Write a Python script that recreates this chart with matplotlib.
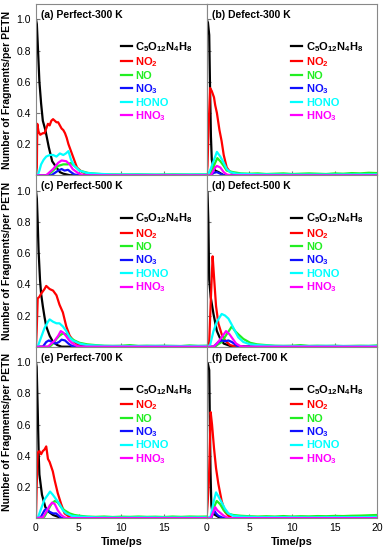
import matplotlib
matplotlib.use("Agg")
import matplotlib.pyplot as plt

plt.rcParams['font.family'] = ['Liberation Sans', 'DejaVu Sans']
plt.rcParams['mathtext.fontset'] = 'custom'
plt.rcParams['mathtext.rm'] = 'Liberation Sans:bold'
plt.rcParams['mathtext.default'] = 'rm'

# species names and colours (legend order)
species = ['C$_5$O$_{12}$N$_4$H$_8$', 'NO$_2$', 'NO', 'NO$_3$', 'HONO', 'HNO$_3$']
colors = ['black', '#ff0000', '#22ee22', '#1010ff', '#00ffff', '#ff00ff']
titles = ['(a) Perfect-300 K', '(b) Defect-300 K',
          '(c) Perfect-500 K', '(d) Defect-500 K',
          '(e) Perfect-700 K', '(f) Defect-700 K']

# ---------- (a) Perfect-300 K ----------
a_t_c5 = [0, 0.1, 0.2, 0.4, 0.6, 0.8, 1.1, 1.5, 1.9, 2.4, 2.8, 3.2, 4.0, 20]
a_c5 = [1.0, 0.97, 0.85, 0.6, 0.46, 0.35, 0.29, 0.18, 0.09, 0.05, 0.02, 0.01, 0, 0]
a_t_no2 = [0, 0.1, 0.15, 0.3, 0.5, 0.8, 1.0, 1.2, 1.4, 1.6, 1.8, 2.0, 2.2, 2.4, 2.6, 2.8,
           3.0, 3.2, 3.4, 3.6, 3.8, 4.0, 4.2, 4.4, 4.6, 4.8, 5.0, 5.4, 6.0, 7.0, 20]
a_no2 = [0, 0.05, 0.33, 0.28, 0.26, 0.27, 0.27, 0.30, 0.33, 0.32, 0.35, 0.36, 0.35, 0.34, 0.34, 0.32,
         0.30, 0.29, 0.27, 0.24, 0.20, 0.17, 0.14, 0.11, 0.08, 0.05, 0.04, 0.02, 0.01, 0, 0]
a_t_no = [0, 1.2, 1.6, 2.2, 2.6, 3.2, 3.75, 4.1, 4.5, 5.1, 6.1, 7, 8, 10, 12, 14, 16, 18, 20]
a_no = [0, 0, 0.01, 0.04, 0.06, 0.07, 0.07, 0.08, 0.06, 0.03, 0.015, 0.01, 0.006, 0.005, 0.006,
        0.004, 0.006, 0.005, 0.006]
a_t_no3 = [0, 1.8, 2.6, 3.0, 3.35, 3.75, 4.1, 4.5, 5.0, 20]
a_no3 = [0, 0, 0.03, 0.04, 0.03, 0.035, 0.02, 0.005, 0, 0]
a_t_hono = [0, 0.2, 0.4, 0.6, 0.9, 1.2, 1.6, 2.0, 2.4, 2.8, 3.2, 3.5, 3.8, 4.1, 4.5, 5.1, 5.9,
            7.1, 9, 12, 15, 20]
a_hono = [0, 0, 0.03, 0.07, 0.1, 0.12, 0.13, 0.13, 0.12, 0.14, 0.13, 0.14, 0.155, 0.1, 0.06,
          0.03, 0.015, 0.01, 0.005, 0.005, 0.004, 0.005]
a_t_hno3 = [0, 1.2, 2.0, 2.6, 3.0, 3.55, 3.95, 4.3, 4.9, 5.5, 20]
a_hno3 = [0, 0, 0.04, 0.08, 0.095, 0.09, 0.07, 0.04, 0.015, 0, 0]

# ---------- (b) Defect-300 K ----------
b_t_c5 = [0, 0.15, 0.3, 0.4, 0.5, 0.6, 0.8, 1.0, 1.4, 2.0, 20]
b_c5 = [1.0, 0.98, 0.9, 0.55, 0.25, 0.1, 0.05, 0.03, 0.02, 0, 0]
b_t_no2 = [0, 0.1, 0.2, 0.4, 0.6, 0.86, 1.0, 1.2, 1.5, 1.75, 2.0, 2.35, 2.75, 3.3, 4.0, 20]
b_no2 = [0, 0.06, 0.26, 0.56, 0.54, 0.5, 0.45, 0.4, 0.29, 0.22, 0.13, 0.05, 0.02, 0.01, 0, 0]
b_t_no = [0, 0.4, 0.6, 1.0, 1.25, 1.6, 2.0, 2.35, 3.1, 4, 5, 6, 7, 8, 9, 10, 11, 12, 13, 14,
          15, 16, 17, 18, 19, 20]
b_no = [0, 0, 0.03, 0.08, 0.11, 0.09, 0.06, 0.03, 0.02, 0.012, 0.01, 0.012, 0.008, 0.01, 0.012,
        0.008, 0.01, 0.012, 0.01, 0.008, 0.012, 0.01, 0.014, 0.012, 0.016, 0.014]
b_t_no3 = [0, 0.5, 0.8, 1.2, 1.6, 2.0, 20]
b_no3 = [0, 0, 0.015, 0.02, 0.01, 0, 0]
b_t_hono = [0, 0.2, 0.47, 0.8, 1.2, 1.6, 2.0, 2.35, 2.75, 3.5, 6, 10, 15, 20]
b_hono = [0, 0.01, 0.04, 0.09, 0.15, 0.12, 0.08, 0.04, 0.02, 0.01, 0.006, 0.005, 0.005, 0.006]
b_t_hno3 = [0, 0.5, 1.0, 1.2, 1.6, 2.0, 2.35, 2.8, 20]
b_hno3 = [0, 0, 0.05, 0.06, 0.05, 0.02, 0.005, 0, 0]

# ---------- (c) Perfect-500 K ----------
c_t_c5 = [0, 0.1, 0.2, 0.3, 0.47, 0.6, 0.8, 1.0, 1.2, 1.6, 2.0, 2.5, 3.0, 20]
c_c5 = [1.0, 0.95, 0.8, 0.62, 0.43, 0.34, 0.26, 0.19, 0.13, 0.07, 0.03, 0.01, 0, 0]
c_t_no2 = [0, 0.08, 0.2, 0.4, 0.6, 1.0, 1.2, 1.6, 2.0, 2.4, 2.75, 3.15, 3.55, 3.95, 4.5, 5.0, 6.0, 20]
c_no2 = [0, 0.1, 0.31, 0.32, 0.34, 0.37, 0.39, 0.37, 0.36, 0.33, 0.27, 0.22, 0.13, 0.07, 0.03,
         0.01, 0, 0]
c_t_no = [0, 1.6, 2.0, 2.4, 2.75, 3.15, 3.55, 3.95, 4.5, 5.1, 6.0, 7.0, 8, 9, 10, 11, 12, 13, 14,
          15, 16, 17, 18, 19, 20]
c_no = [0, 0, 0.02, 0.05, 0.07, 0.085, 0.08, 0.06, 0.04, 0.025, 0.015, 0.01, 0.006, 0.005, 0.006,
        0.01, 0.005, 0.006, 0.005, 0.006, 0.005, 0.004, 0.008, 0.005, 0.006]
c_t_no3 = [0, 0.8, 1.2, 1.5, 1.9, 2.3, 2.7, 3.0, 3.4, 3.8, 4.2, 4.6, 20]
c_no3 = [0, 0, 0.03, 0.04, 0.03, 0.02, 0.03, 0.045, 0.04, 0.02, 0.005, 0, 0]
c_t_hono = [0, 0.2, 0.6, 1.0, 1.4, 1.6, 2.0, 2.4, 2.75, 3.15, 3.55, 3.95, 4.3, 5.1, 6.0, 8, 11,
            14, 17, 20]
c_hono = [0, 0, 0.06, 0.12, 0.16, 0.175, 0.16, 0.15, 0.15, 0.13, 0.1, 0.06, 0.04, 0.02, 0.01,
          0.005, 0.004, 0.005, 0.004, 0.005]
c_t_hno3 = [0, 1.4, 1.8, 2.2, 2.6, 2.9, 3.2, 3.5, 3.9, 4.3, 4.8, 5.2, 20]
c_hno3 = [0, 0, 0.02, 0.04, 0.07, 0.1, 0.09, 0.07, 0.04, 0.02, 0.005, 0, 0]

# ---------- (d) Defect-500 K ----------
d_t_c5 = [0, 0.1, 0.2, 0.3, 0.47, 0.8, 1.2, 1.6, 2.0, 2.5, 3.0, 20]
d_c5 = [1.0, 0.99, 0.8, 0.43, 0.32, 0.21, 0.1, 0.05, 0.02, 0.01, 0, 0]
d_t_no2 = [0, 0.2, 0.3, 0.5, 0.7, 0.86, 1.1, 1.37, 1.76, 2.15, 2.75, 3.5, 20]
d_no2 = [0, 0, 0.03, 0.32, 0.58, 0.45, 0.26, 0.15, 0.08, 0.04, 0.01, 0, 0]
d_t_no = [0, 1.0, 1.2, 1.76, 2.35, 2.95, 3.33, 3.7, 4.3, 5.1, 5.9, 7.0, 8, 9, 10, 11, 12, 13, 14,
          15, 16, 17, 18, 19, 20]
d_no = [0, 0, 0.01, 0.03, 0.08, 0.13, 0.1, 0.08, 0.05, 0.025, 0.015, 0.01, 0.006, 0.005, 0.006,
        0.01, 0.005, 0.006, 0.005, 0.006, 0.004, 0.005, 0.006, 0.005, 0.008]
d_t_no3 = [0, 0.8, 1.0, 1.37, 1.76, 2.15, 2.55, 2.95, 3.33, 3.7, 20]
d_no3 = [0, 0, 0.01, 0.03, 0.04, 0.035, 0.04, 0.03, 0.015, 0, 0]
d_t_hono = [0, 0.4, 0.8, 1.2, 1.76, 2.15, 2.55, 2.95, 3.33, 3.7, 4.3, 5.1, 6.0, 8, 11, 14, 17, 20]
d_hono = [0, 0.01, 0.1, 0.16, 0.21, 0.2, 0.18, 0.14, 0.1, 0.06, 0.03, 0.015, 0.01, 0.005, 0.004,
          0.005, 0.004, 0.005]
d_t_hno3 = [0, 0.8, 1.2, 1.76, 2.27, 2.67, 3.06, 3.45, 3.9, 4.3, 20]
d_hno3 = [0, 0, 0.02, 0.06, 0.1, 0.08, 0.05, 0.02, 0.005, 0, 0]

# ---------- (e) Perfect-700 K ----------
e_t_c5 = [0, 0.08, 0.2, 0.32, 0.4, 0.7, 1.1, 1.5, 2.0, 2.5, 3.0, 20]
e_c5 = [1.0, 0.97, 0.7, 0.4, 0.28, 0.15, 0.07, 0.04, 0.02, 0.01, 0, 0]
e_t_no2 = [0, 0.08, 0.2, 0.4, 0.6, 0.8, 1.0, 1.2, 1.4, 1.6, 1.97, 2.2, 2.55, 2.95, 3.35, 4.0, 4.5, 20]
e_no2 = [0, 0.2, 0.42, 0.43, 0.41, 0.43, 0.44, 0.46, 0.38, 0.36, 0.3, 0.24, 0.16, 0.09, 0.03,
         0.005, 0, 0]
e_t_no = [0, 0.8, 1.0, 1.4, 1.8, 2.2, 2.55, 2.95, 3.35, 3.95, 4.5, 5.1, 6, 7, 8, 9, 10, 11, 12,
          13, 14, 15, 16, 17, 18, 19, 20]
e_no = [0, 0, 0.01, 0.05, 0.09, 0.11, 0.1, 0.07, 0.05, 0.03, 0.02, 0.015, 0.01, 0.008, 0.01,
        0.007, 0.009, 0.008, 0.01, 0.008, 0.009, 0.007, 0.01, 0.008, 0.01, 0.009, 0.01]
e_t_no3 = [0, 0.4, 0.6, 1.0, 1.2, 1.6, 2.0, 2.37, 2.76, 3.0, 20]
e_no3 = [0, 0, 0.01, 0.05, 0.06, 0.04, 0.03, 0.03, 0.01, 0, 0]
e_t_hono = [0, 0.2, 0.6, 1.0, 1.4, 1.65, 1.97, 2.37, 2.76, 3.15, 3.55, 4.2, 5.0, 7, 10, 13, 16, 20]
e_hono = [0, 0, 0.06, 0.12, 0.15, 0.17, 0.15, 0.12, 0.09, 0.05, 0.03, 0.015, 0.01, 0.005, 0.004,
          0.005, 0.004, 0.005]
e_t_hno3 = [0, 0.8, 1.2, 1.6, 1.9, 2.2, 2.55, 2.95, 3.35, 3.6, 20]
e_hno3 = [0, 0.005, 0.04, 0.08, 0.1, 0.09, 0.05, 0.02, 0.005, 0, 0]

# ---------- (f) Defect-700 K ----------
f_t_c5 = [0, 0.15, 0.3, 0.38, 0.45, 0.55, 0.7, 1.0, 1.3, 1.6, 20]
f_c5 = [1.0, 0.99, 0.95, 0.6, 0.3, 0.08, 0.03, 0.02, 0.01, 0, 0]
f_t_no2 = [0, 0.12, 0.27, 0.47, 0.63, 0.86, 1.1, 1.37, 1.76, 2.15, 2.55, 3.0, 20]
f_no2 = [0, 0.1, 0.25, 0.68, 0.6, 0.45, 0.32, 0.22, 0.11, 0.04, 0.015, 0, 0]
f_t_no = [0, 0.5, 0.6, 0.86, 1.18, 1.57, 2.0, 2.43, 3.1, 4, 5, 6, 7, 8, 9, 10, 11, 12, 13, 14,
          15, 16, 17, 18, 19, 20]
f_no = [0, 0, 0.01, 0.07, 0.11, 0.09, 0.05, 0.03, 0.02, 0.015, 0.012, 0.01, 0.012, 0.01, 0.013,
        0.01, 0.012, 0.011, 0.013, 0.012, 0.014, 0.013, 0.015, 0.016, 0.018, 0.02]
f_t_no3 = [0, 0.5, 0.6, 0.86, 1.1, 1.37, 1.76, 2.0, 20]
f_no3 = [0, 0, 0.01, 0.05, 0.03, 0.015, 0.005, 0, 0]
f_t_hono = [0, 0.47, 0.8, 1.1, 1.37, 1.76, 2.15, 2.55, 3.1, 4.0, 6, 9, 12, 15, 18, 20]
f_hono = [0, 0.01, 0.1, 0.165, 0.14, 0.1, 0.06, 0.03, 0.015, 0.01, 0.006, 0.006, 0.005, 0.006,
          0.006, 0.008]
f_t_hno3 = [0, 0.47, 0.7, 1.0, 1.25, 1.57, 2.0, 2.35, 2.6, 20]
f_hno3 = [0, 0, 0.03, 0.07, 0.05, 0.035, 0.015, 0.005, 0, 0]

panels = [
    [(a_t_c5, a_c5), (a_t_no2, a_no2), (a_t_no, a_no), (a_t_no3, a_no3), (a_t_hono, a_hono), (a_t_hno3, a_hno3)],
    [(b_t_c5, b_c5), (b_t_no2, b_no2), (b_t_no, b_no), (b_t_no3, b_no3), (b_t_hono, b_hono), (b_t_hno3, b_hno3)],
    [(c_t_c5, c_c5), (c_t_no2, c_no2), (c_t_no, c_no), (c_t_no3, c_no3), (c_t_hono, c_hono), (c_t_hno3, c_hno3)],
    [(d_t_c5, d_c5), (d_t_no2, d_no2), (d_t_no, d_no), (d_t_no3, d_no3), (d_t_hono, d_hono), (d_t_hno3, d_hno3)],
    [(e_t_c5, e_c5), (e_t_no2, e_no2), (e_t_no, e_no), (e_t_no3, e_no3), (e_t_hono, e_hono), (e_t_hno3, e_hno3)],
    [(f_t_c5, f_c5), (f_t_no2, f_no2), (f_t_no, f_no), (f_t_no3, f_no3), (f_t_hono, f_hono), (f_t_hno3, f_hno3)],
]

fig, axes = plt.subplots(3, 2, figsize=(3.87, 5.5), dpi=100)
fig.subplots_adjust(left=0.093, right=0.975, top=0.993, bottom=0.058, hspace=0, wspace=0)

for i, ax in enumerate(axes.flat):
    for (t, y), name, col in zip(panels[i], species, colors):
        ax.plot(t, y, color=col, lw=1.6, label=name)
    ax.set_xlim(0, 20)
    ax.set_ylim(0, 1.1)
    ax.set_yticks([0.2, 0.4, 0.6, 0.8, 1.0])
    ax.tick_params(direction='in', length=3, labelsize=7.5, color='#777777')
    for sp in ax.spines.values():
        sp.set_color('#888888')
        sp.set_linewidth(0.8)
    ax.text(0.03, 0.935, titles[i], transform=ax.transAxes, fontsize=7.5,
            fontweight='bold', va='center', ha='left')
    leg = ax.legend(loc='upper left', bbox_to_anchor=(0.47, 0.815), frameon=False,
                    handlelength=1.0, handletextpad=0.3, labelspacing=0.14,
                    borderaxespad=0, prop={'size': 8, 'weight': 'bold'},
                    labelcolor='linecolor')
    row, colm = divmod(i, 2)
    if colm == 0:
        ax.set_ylabel('Number of Fragments/per PETN', fontsize=7.5, fontweight='bold', labelpad=3)
        ax.set_xticks([0, 5, 10, 15])
    else:
        ax.tick_params(labelleft=False)
        ax.set_xticks([0, 5, 10, 15, 20])
    if row < 2:
        ax.tick_params(labelbottom=False)
    else:
        ax.set_xlabel('Time/ps', fontsize=8, fontweight='bold', labelpad=3)

fig.savefig('out.png', dpi=100)
